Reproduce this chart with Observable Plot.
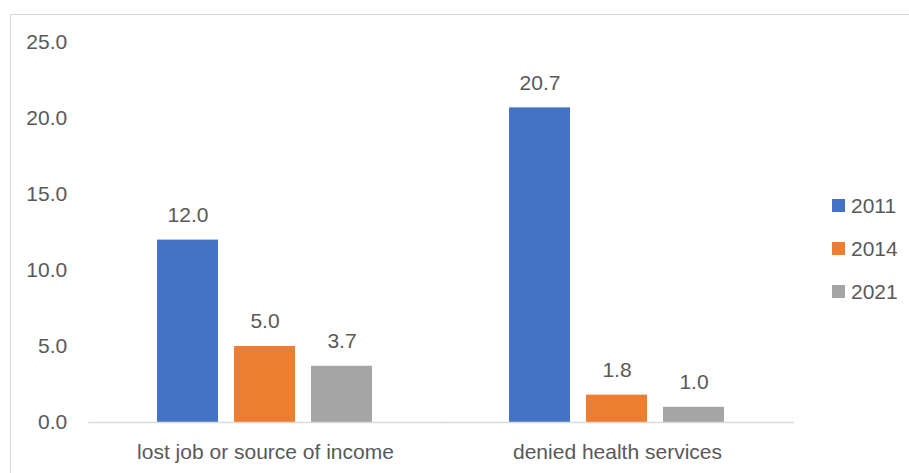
<!DOCTYPE html>
<html>
<head>
<meta charset="utf-8">
<script src="https://cdn.jsdelivr.net/npm/d3@7"></script>
<script src="https://cdn.jsdelivr.net/npm/@observablehq/plot@0.6"></script>
<style>
  html, body { margin: 0; padding: 0; background: #fff; }
  #wrap { position: relative; width: 909px; height: 473px; overflow: hidden; font-family: "Liberation Sans", sans-serif; }
  #frame { position: absolute; left: 10px; top: 14px; width: 920px; height: 500px; border-left: 1px solid #d9d9d9; border-top: 1px solid #d9d9d9; }
  #chart { position: absolute; left: 0; top: 0; }
  #legend { position: absolute; left: 832px; top: 184px; font-size: 21px; color: #595959; }
  #legend .item { display: flex; align-items: center; height: 43px; }
  #legend .sw { width: 13px; height: 13px; margin-right: 6px; }
</style>
</head>
<body>
<div id="wrap"><div id="frame"></div><div id="chart"></div><div id="legend"></div></div>
<script>
const categories = ["lost job or source of income", "denied health services"];
const years = ["2011", "2014", "2021"];
const values2011 = [12.0, 20.7];
const values2014 = [5.0, 1.8];
const values2021 = [3.7, 1.0];
const yTicks = [0, 5, 10, 15, 20, 25];
const colors = ["#4472C4", "#ED7D31", "#A5A5A5"];

const series = [values2011, values2014, values2021];
const data = [];
categories.forEach((c, i) => {
  years.forEach((y, j) => data.push({category: c, year: y, value: series[j][i]}));
});

const textColor = "#595959";
const fontFamily = "'Liberation Sans', sans-serif";
const fs = 21;

const W = 909, mL = 88, mR = 116;
const pInner = 0.382, pOuter = 0.191;
const step = (W - mL - mR) / (categories.length - pInner + 2 * pOuter);
const facetOffset = step * pOuter; // distance from plot left edge to first facet

const chart = Plot.plot({
  width: W,
  height: 473,
  marginLeft: mL,
  marginRight: mR,
  marginTop: 42,
  marginBottom: 51,
  style: {fontFamily, fontSize: fs + "px", color: textColor, background: "transparent"},
  fx: {domain: categories, paddingInner: pInner, paddingOuter: pOuter, label: null, axis: null},
  x: {domain: years, paddingInner: 0.205, paddingOuter: 0, axis: null},
  y: {domain: [0, 25], label: null},
  color: {domain: years, range: colors},
  marks: [
    Plot.axisY({ticks: yTicks, tickFormat: d => d.toFixed(1), tickSize: 0, tickPadding: facetOffset + 22, label: null, fontSize: fs, fill: textColor}),
    Plot.barY(data, {fx: "category", x: "year", y: "value", fill: "year"}),
    Plot.ruleY([0], {stroke: "#d9d9d9", strokeWidth: 1.3, insetLeft: -facetOffset - 0.5, insetRight: -facetOffset - 0.5}),
    Plot.text(data, {fx: "category", x: "year", y: "value", text: d => d.value.toFixed(1), dy: -25, fill: textColor, fontSize: fs}),
    Plot.axisFx({tickSize: 0, tickPadding: 22, label: null, fontSize: fs, fill: textColor, anchor: "bottom"})
  ]
});
document.getElementById("chart").appendChild(chart);

const legend = document.getElementById("legend");
years.forEach((y, i) => {
  const item = document.createElement("div");
  item.className = "item";
  const sw = document.createElement("span");
  sw.className = "sw";
  sw.style.background = colors[i];
  const t = document.createElement("span");
  t.textContent = y;
  item.appendChild(sw);
  item.appendChild(t);
  legend.appendChild(item);
});
</script>
</body>
</html>
